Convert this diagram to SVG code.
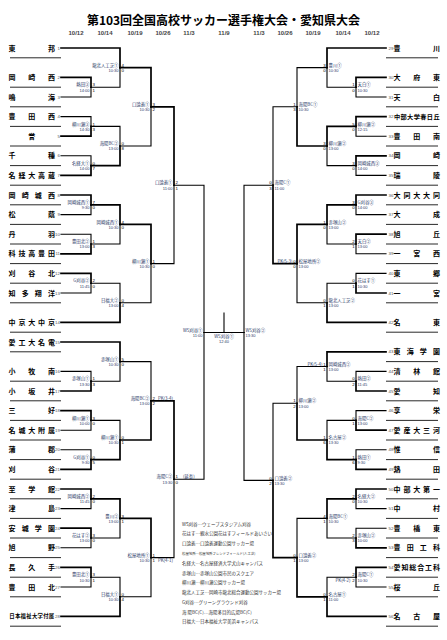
<svg xmlns="http://www.w3.org/2000/svg" width="447" height="640" viewBox="0 0 447 640">
<style>
.w{fill:none;stroke:#000;stroke-width:1.7;stroke-linecap:square}
.l{fill:none;stroke:#000;stroke-width:1.1;stroke-linecap:square}
.u{stroke:#111;stroke-width:0.9}
text{font-family:"Noto Sans CJK JP","Noto Sans",sans-serif}
.nm{font-size:7px;font-weight:bold;text-anchor:middle;fill:#000}
.nl{font-size:4.4px;fill:#555;font-family:"Liberation Sans",sans-serif;text-anchor:end}
.nr{font-size:4.4px;fill:#555;font-family:"Liberation Sans",sans-serif}
.v{font-size:4.4px;fill:#2b3a67}
.t{font-size:4px;fill:#2b3a67;font-family:"Liberation Sans",sans-serif}
.s{font-size:4.4px;fill:#000;font-family:"Liberation Sans",sans-serif}
.e{text-anchor:end}
.dt{font-size:6px;font-weight:bold;fill:#444;text-anchor:middle;font-family:"Liberation Sans",sans-serif}
.ttl{font-size:12px;font-weight:bold;text-anchor:middle;fill:#000}
.lg{font-size:4.5px;fill:#333}
</style>
<rect width="447" height="640" fill="#fff"/>
<g id="title">
<text class="ttl" x="223.5" y="24.5">第103回全国高校サッカー選手権大会・愛知県大会</text>
</g>
<g id="dates">
<text class="dt" x="76" y="35">10/12</text><text class="dt" x="105" y="35">10/14</text><text class="dt" x="135" y="35">10/19</text><text class="dt" x="163" y="35">10/26</text><text class="dt" x="189" y="35">11/3</text><text class="dt" x="224" y="35">11/9</text><text class="dt" x="259" y="35">11/3</text><text class="dt" x="285" y="35">10/26</text><text class="dt" x="313" y="35">10/19</text><text class="dt" x="343" y="35">10/14</text><text class="dt" x="372" y="35">10/12</text>
</g>
<g id="connectors">
<path class="w" d="M61 77.4H91V87.2"/><path class="l" d="M61 97H91V87.2"/>
<path class="l" d="M61 116.6H91V126.4"/><path class="w" d="M61 136.2H91V126.4"/>
<path class="l" d="M61 155.8H91V165.6"/><path class="w" d="M61 175.4H91V165.6"/>
<path class="w" d="M61 195H91V204.8"/><path class="l" d="M61 214.6H91V204.8"/>
<path class="l" d="M61 234.2H91V244"/><path class="w" d="M61 253.8H91V244"/>
<path class="w" d="M61 273.4H91V283.2"/><path class="l" d="M61 293H91V283.2"/>
<path class="l" d="M61 371.4H91V381.2"/><path class="w" d="M61 391H91V381.2"/>
<path class="w" d="M61 410.6H91V420.4"/><path class="l" d="M61 430.2H91V420.4"/>
<path class="l" d="M61 449.8H91V459.6"/><path class="w" d="M61 469.4H91V459.6"/>
<path class="w" d="M61 489H91V498.8"/><path class="l" d="M61 508.6H91V498.8"/>
<path class="w" d="M61 528.2H91V538"/><path class="l" d="M61 547.8H91V538"/>
<path class="w" d="M61 567.4H91V577.2"/><path class="l" d="M61 587H91V577.2"/>
<path class="w" d="M61 48H120V67.6"/><path class="l" d="M91 87.2H120V67.6"/>
<path class="l" d="M91 126.4H120V146"/><path class="w" d="M91 165.6H120V146"/>
<path class="w" d="M91 204.8H120V224.4"/><path class="l" d="M91 244H120V224.4"/>
<path class="l" d="M91 283.2H120V302.8"/><path class="w" d="M61 322.4H120V302.8"/>
<path class="w" d="M61 342H120V361.6"/><path class="l" d="M91 381.2H120V361.6"/>
<path class="l" d="M91 420.4H120V440"/><path class="w" d="M91 459.6H120V440"/>
<path class="w" d="M91 498.8H120V518.4"/><path class="l" d="M91 538H120V518.4"/>
<path class="l" d="M91 577.2H120V596.8"/><path class="w" d="M61 616.4H120V596.8"/>
<path class="w" d="M120 67.6H151V106.8"/><path class="l" d="M120 146H151V106.8"/>
<path class="w" d="M120 224.4H151V263.6"/><path class="l" d="M120 302.8H151V263.6"/>
<path class="l" d="M120 361.6H151V400.8"/><path class="w" d="M120 440H151V400.8"/>
<path class="w" d="M120 518.4H151V557.6"/><path class="l" d="M120 596.8H151V557.6"/>
<path class="w" d="M151 106.8H174V185.2"/><path class="l" d="M151 263.6H174V185.2"/>
<path class="w" d="M151 400.8H174V479.2"/><path class="l" d="M151 557.6H174V479.2"/>
<path class="l" d="M174 185.2H204V332.5"/><path class="l" d="M174 479.2H204V332.5"/>
<path class="l" d="M204 332.5H244"/><path class="l" d="M224 332.5V313"/>
<path class="l" d="M273 185.2H244V332.5"/><path class="l" d="M273 480.4H244V332.5"/>
<path class="w" d="M386 77.4H356V87.2"/><path class="l" d="M386 97H356V87.2"/>
<path class="w" d="M386 116.6H356V126.4"/><path class="l" d="M386 136.2H356V126.4"/>
<path class="w" d="M386 155.8H356V165.6"/><path class="l" d="M386 175.4H356V165.6"/>
<path class="w" d="M386 195H356V204.8"/><path class="l" d="M386 214.6H356V204.8"/>
<path class="w" d="M386 234.2H356V244"/><path class="l" d="M386 253.8H356V244"/>
<path class="l" d="M386 273.4H356V283.2"/><path class="w" d="M386 293H356V283.2"/>
<path class="l" d="M386 371.4H356V381.2"/><path class="w" d="M386 391H356V381.2"/>
<path class="l" d="M386 410.6H356V420.4"/><path class="w" d="M386 430.2H356V420.4"/>
<path class="l" d="M386 449.8H356V459.6"/><path class="w" d="M386 469.4H356V459.6"/>
<path class="w" d="M386 489H356V498.8"/><path class="l" d="M386 508.6H356V498.8"/>
<path class="l" d="M386 528.2H356V538"/><path class="w" d="M386 547.8H356V538"/>
<path class="w" d="M386 567.4H356V577.2"/><path class="l" d="M386 587H356V577.2"/>
<path class="w" d="M386 48H327V67.6"/><path class="l" d="M356 87.2H327V67.6"/>
<path class="w" d="M356 126.4H327V146"/><path class="l" d="M356 165.6H327V146"/>
<path class="w" d="M356 204.8H327V224.4"/><path class="l" d="M356 244H327V224.4"/>
<path class="l" d="M356 283.2H327V302.8"/><path class="w" d="M386 322.4H327V302.8"/>
<path class="w" d="M386 351.8H327V366.5"/><path class="l" d="M356 381.2H327V366.5"/>
<path class="l" d="M356 420.4H327V440"/><path class="w" d="M356 459.6H327V440"/>
<path class="w" d="M356 498.8H327V518.4"/><path class="l" d="M356 538H327V518.4"/>
<path class="l" d="M356 577.2H327V596.8"/><path class="w" d="M386 616.4H327V596.8"/>
<path class="l" d="M327 67.6H297V106.8"/><path class="w" d="M327 146H297V106.8"/>
<path class="w" d="M327 224.4H297V263.6"/><path class="l" d="M327 302.8H297V263.6"/>
<path class="l" d="M327 366.5H297V403.25"/><path class="w" d="M327 440H297V403.25"/>
<path class="l" d="M327 518.4H297V557.6"/><path class="w" d="M327 596.8H297V557.6"/>
<path class="l" d="M297 106.8H273V185.2"/><path class="w" d="M297 263.6H273V185.2"/>
<path class="l" d="M297 403.25H273V480.4"/><path class="w" d="M297 557.6H273V480.4"/>
</g>
<g id="teams-left">
<g id="team-1"><text class="nm" x="12 51.5" y="50.5">東邦</text><text class="nl" x="60" y="49.6">1</text><line class="u" x1="10" y1="57.8" x2="61" y2="57.8"/></g>
<g id="team-2"><text class="nm" x="12 31.75 51.5" y="79.9">岡崎西</text><text class="nl" x="60" y="79">2</text><line class="u" x1="10" y1="87.2" x2="61" y2="87.2"/></g>
<g id="team-3"><text class="nm" x="12 51.5" y="99.5">鳴海</text><text class="nl" x="60" y="98.6">3</text><line class="u" x1="10" y1="106.8" x2="61" y2="106.8"/></g>
<g id="team-4"><text class="nm" x="12 31.75 51.5" y="119.1">豊田西</text><text class="nl" x="60" y="118.2">4</text><line class="u" x1="10" y1="126.4" x2="61" y2="126.4"/></g>
<g id="team-5"><text class="nm" x="31.75" y="138.7">誉</text><text class="nl" x="60" y="137.8">5</text><line class="u" x1="10" y1="146" x2="61" y2="146"/></g>
<g id="team-6"><text class="nm" x="12 51.5" y="158.3">千種</text><text class="nl" x="60" y="157.4">6</text><line class="u" x1="10" y1="165.6" x2="61" y2="165.6"/></g>
<g id="team-7"><text class="nm" x="12 21.9 31.75 41.6 51.5" y="177.9">名経大高蔵</text><text class="nl" x="60" y="177">7</text><line class="u" x1="10" y1="185.2" x2="61" y2="185.2"/></g>
<g id="team-8"><text class="nm" x="12 25.2 38.3 51.5" y="197.5">岡崎城西</text><text class="nl" x="60" y="196.6">8</text><line class="u" x1="10" y1="204.8" x2="61" y2="204.8"/></g>
<g id="team-9"><text class="nm" x="12 51.5" y="217.1">松蔭</text><text class="nl" x="60" y="216.2">9</text><line class="u" x1="10" y1="224.4" x2="61" y2="224.4"/></g>
<g id="team-10"><text class="nm" x="12 51.5" y="236.7">丹羽</text><text class="nl" x="60" y="235.8">10</text><line class="u" x1="10" y1="244" x2="61" y2="244"/></g>
<g id="team-11"><text class="nm" x="12 21.9 31.75 41.6 51.5" y="256.3">科技高豊田</text><text class="nl" x="60" y="255.4">11</text><line class="u" x1="10" y1="263.6" x2="61" y2="263.6"/></g>
<g id="team-12"><text class="nm" x="12 31.75 51.5" y="275.9">刈谷北</text><text class="nl" x="60" y="275">12</text><line class="u" x1="10" y1="283.2" x2="61" y2="283.2"/></g>
<g id="team-13"><text class="nm" x="12 25.2 38.3 51.5" y="295.5">知多翔洋</text><text class="nl" x="60" y="294.6">13</text><line class="u" x1="10" y1="302.8" x2="61" y2="302.8"/></g>
<g id="team-14"><text class="nm" x="12 21.9 31.75 41.6 51.5" y="324.9">中京大中京</text><text class="nl" x="60" y="324">14</text><line class="u" x1="10" y1="332.2" x2="61" y2="332.2"/></g>
<g id="team-15"><text class="nm" x="12 21.9 31.75 41.6 51.5" y="344.5">愛工大名電</text><text class="nl" x="60" y="343.6">15</text><line class="u" x1="10" y1="351.8" x2="61" y2="351.8"/></g>
<g id="team-16"><text class="nm" x="12 31.75 51.5" y="373.9">小牧南</text><text class="nl" x="60" y="373">16</text><line class="u" x1="10" y1="381.2" x2="61" y2="381.2"/></g>
<g id="team-17"><text class="nm" x="12 31.75 51.5" y="393.5">小坂井</text><text class="nl" x="60" y="392.6">17</text><line class="u" x1="10" y1="400.8" x2="61" y2="400.8"/></g>
<g id="team-18"><text class="nm" x="12 51.5" y="413.1">三好</text><text class="nl" x="60" y="412.2">18</text><line class="u" x1="10" y1="420.4" x2="61" y2="420.4"/></g>
<g id="team-19"><text class="nm" x="12 21.9 31.75 41.6 51.5" y="432.7">名城大附属</text><text class="nl" x="60" y="431.8">19</text><line class="u" x1="10" y1="440" x2="61" y2="440"/></g>
<g id="team-20"><text class="nm" x="12 51.5" y="452.3">蒲郡</text><text class="nl" x="60" y="451.4">20</text><line class="u" x1="10" y1="459.6" x2="61" y2="459.6"/></g>
<g id="team-21"><text class="nm" x="12 51.5" y="471.9">刈谷</text><text class="nl" x="60" y="471">21</text><line class="u" x1="10" y1="479.2" x2="61" y2="479.2"/></g>
<g id="team-22"><text class="nm" x="12 31.75 51.5" y="491.5">至学館</text><text class="nl" x="60" y="490.6">22</text><line class="u" x1="10" y1="498.8" x2="61" y2="498.8"/></g>
<g id="team-23"><text class="nm" x="12 51.5" y="511.1">津島</text><text class="nl" x="60" y="510.2">23</text><line class="u" x1="10" y1="518.4" x2="61" y2="518.4"/></g>
<g id="team-24"><text class="nm" x="12 25.2 38.3 51.5" y="530.7">安城学園</text><text class="nl" x="60" y="529.8">24</text><line class="u" x1="10" y1="538" x2="61" y2="538"/></g>
<g id="team-25"><text class="nm" x="12 51.5" y="550.3">旭野</text><text class="nl" x="60" y="549.4">25</text><line class="u" x1="10" y1="557.6" x2="61" y2="557.6"/></g>
<g id="team-26"><text class="nm" x="12 31.75 51.5" y="569.9">長久手</text><text class="nl" x="60" y="569">26</text><line class="u" x1="10" y1="577.2" x2="61" y2="577.2"/></g>
<g id="team-27"><text class="nm" x="12 31.75 51.5" y="589.5">豊田北</text><text class="nl" x="60" y="588.6">27</text><line class="u" x1="10" y1="596.8" x2="61" y2="596.8"/></g>
<g id="team-28"><text class="nm" style="font-size:5.4px" x="12 17.6 23.3 28.9 34.6 40.2 45.9 51.5" y="618.4">日本福祉大学付属</text><text class="nl" x="60" y="618">28</text><line class="u" x1="10" y1="626.2" x2="61" y2="626.2"/></g>
</g>
<g id="teams-right">
<g id="team-29"><text class="nm" x="397 436.5" y="50.5">豊川</text><text class="nr" x="388.5" y="49.6">29</text><line class="u" x1="386" y1="57.8" x2="438" y2="57.8"/></g>
<g id="team-30"><text class="nm" x="397 416.75 436.5" y="79.9">大府東</text><text class="nr" x="388.5" y="79">30</text><line class="u" x1="386" y1="87.2" x2="438" y2="87.2"/></g>
<g id="team-31"><text class="nm" x="397 436.5" y="99.5">天白</text><text class="nr" x="388.5" y="98.6">31</text><line class="u" x1="386" y1="106.8" x2="438" y2="106.8"/></g>
<g id="team-32"><text class="nm" style="font-size:6.2px" x="397 403.6 410.2 416.75 423.3 429.9 436.5" y="118.8">中部大学春日丘</text><text class="nr" x="388.5" y="118.2">32</text><line class="u" x1="386" y1="126.4" x2="438" y2="126.4"/></g>
<g id="team-33"><text class="nm" x="397 416.75 436.5" y="138.7">豊田南</text><text class="nr" x="388.5" y="137.8">33</text><line class="u" x1="386" y1="146" x2="438" y2="146"/></g>
<g id="team-34"><text class="nm" x="397 436.5" y="158.3">岡崎</text><text class="nr" x="388.5" y="157.4">34</text><line class="u" x1="386" y1="165.6" x2="438" y2="165.6"/></g>
<g id="team-35"><text class="nm" x="397 436.5" y="177.9">瑞陵</text><text class="nr" x="388.5" y="177">35</text><line class="u" x1="386" y1="185.2" x2="438" y2="185.2"/></g>
<g id="team-36"><text class="nm" x="397 406.9 416.75 426.6 436.5" y="197.5">大同大大同</text><text class="nr" x="388.5" y="196.6">36</text><line class="u" x1="386" y1="204.8" x2="438" y2="204.8"/></g>
<g id="team-37"><text class="nm" x="397 436.5" y="217.1">大成</text><text class="nr" x="388.5" y="216.2">37</text><line class="u" x1="386" y1="224.4" x2="438" y2="224.4"/></g>
<g id="team-38"><text class="nm" x="397 436.5" y="236.7">旭丘</text><text class="nr" x="388.5" y="235.8">38</text><line class="u" x1="386" y1="244" x2="438" y2="244"/></g>
<g id="team-39"><text class="nm" x="397 416.75 436.5" y="256.3">一宮西</text><text class="nr" x="388.5" y="255.4">39</text><line class="u" x1="386" y1="263.6" x2="438" y2="263.6"/></g>
<g id="team-40"><text class="nm" x="397 436.5" y="275.9">東郷</text><text class="nr" x="388.5" y="275">40</text><line class="u" x1="386" y1="283.2" x2="438" y2="283.2"/></g>
<g id="team-41"><text class="nm" x="397 436.5" y="295.5">一宮</text><text class="nr" x="388.5" y="294.6">41</text><line class="u" x1="386" y1="302.8" x2="438" y2="302.8"/></g>
<g id="team-42"><text class="nm" x="397 436.5" y="324.9">名東</text><text class="nr" x="388.5" y="324">42</text><line class="u" x1="386" y1="332.2" x2="438" y2="332.2"/></g>
<g id="team-43"><text class="nm" x="397 410.2 423.3 436.5" y="354.3">東海学園</text><text class="nr" x="388.5" y="353.4">43</text><line class="u" x1="386" y1="361.6" x2="438" y2="361.6"/></g>
<g id="team-44"><text class="nm" x="397 416.75 436.5" y="373.9">清林館</text><text class="nr" x="388.5" y="373">44</text><line class="u" x1="386" y1="381.2" x2="438" y2="381.2"/></g>
<g id="team-45"><text class="nm" x="397 436.5" y="393.5">愛知</text><text class="nr" x="388.5" y="392.6">45</text><line class="u" x1="386" y1="400.8" x2="438" y2="400.8"/></g>
<g id="team-46"><text class="nm" x="397 436.5" y="413.1">享栄</text><text class="nr" x="388.5" y="412.2">46</text><line class="u" x1="386" y1="420.4" x2="438" y2="420.4"/></g>
<g id="team-47"><text class="nm" x="397 406.9 416.75 426.6 436.5" y="432.7">愛産大三河</text><text class="nr" x="388.5" y="431.8">47</text><line class="u" x1="386" y1="440" x2="438" y2="440"/></g>
<g id="team-48"><text class="nm" x="397 436.5" y="452.3">惟信</text><text class="nr" x="388.5" y="451.4">48</text><line class="u" x1="386" y1="459.6" x2="438" y2="459.6"/></g>
<g id="team-49"><text class="nm" x="397 436.5" y="471.9">熱田</text><text class="nr" x="388.5" y="471">49</text><line class="u" x1="386" y1="479.2" x2="438" y2="479.2"/></g>
<g id="team-50"><text class="nm" x="397 406.9 416.75 426.6 436.5" y="491.5">中部大第一</text><text class="nr" x="388.5" y="490.6">50</text><line class="u" x1="386" y1="498.8" x2="438" y2="498.8"/></g>
<g id="team-51"><text class="nm" x="397 436.5" y="511.1">中村</text><text class="nr" x="388.5" y="510.2">51</text><line class="u" x1="386" y1="518.4" x2="438" y2="518.4"/></g>
<g id="team-52"><text class="nm" x="397 416.75 436.5" y="530.7">豊橋東</text><text class="nr" x="388.5" y="529.8">52</text><line class="u" x1="386" y1="538" x2="438" y2="538"/></g>
<g id="team-53"><text class="nm" x="397 410.2 423.3 436.5" y="550.3">豊田工科</text><text class="nr" x="388.5" y="549.4">53</text><line class="u" x1="386" y1="557.6" x2="438" y2="557.6"/></g>
<g id="team-54"><text class="nm" x="397 404.9 412.8 420.7 428.6 436.5" y="569.9">愛知総合工科</text><text class="nr" x="388.5" y="569">54</text><line class="u" x1="386" y1="577.2" x2="438" y2="577.2"/></g>
<g id="team-55"><text class="nm" x="397 436.5" y="589.5">桜丘</text><text class="nr" x="388.5" y="588.6">55</text><line class="u" x1="386" y1="596.8" x2="438" y2="596.8"/></g>
<g id="team-56"><text class="nm" x="397 416.75 436.5" y="618.9">名古屋</text><text class="nr" x="388.5" y="618">56</text><line class="u" x1="386" y1="626.2" x2="438" y2="626.2"/></g>
</g>
<g id="matches-left">
<g id="ml-1"><text class="v e" x="89.5" y="86.4">熱田③</text><text class="t e" x="89.5" y="91.5">14:00</text><text class="s" x="92.5" y="86.4">3</text><text class="s" x="92.5" y="91.5">1</text></g>
<g id="ml-2"><text class="v e" x="89.5" y="125.6">柳川瀬③</text><text class="t e" x="89.5" y="130.7">14:30</text><text class="s" x="92.5" y="125.6">1</text><text class="s" x="92.5" y="130.7">3</text></g>
<g id="ml-3"><text class="v e" x="89.5" y="164.8">名経大①</text><text class="t e" x="89.5" y="169.9">14:00</text><text class="s" x="92.5" y="164.8">0</text><text class="s" x="92.5" y="169.9">7</text></g>
<g id="ml-4"><text class="v e" x="89.5" y="204">岡崎城西①</text><text class="t e" x="89.5" y="209.1">9:30</text><text class="s" x="92.5" y="204">7</text><text class="s" x="92.5" y="209.1">0</text></g>
<g id="ml-5"><text class="v e" x="89.5" y="243.2">豊田北②</text><text class="t e" x="89.5" y="248.3">13:00</text><text class="s" x="92.5" y="243.2">1</text><text class="s" x="92.5" y="248.3">3</text></g>
<g id="ml-6"><text class="v e" x="89.5" y="282.4">G刈谷②</text><text class="t e" x="89.5" y="287.5">11:45</text><text class="s" x="92.5" y="282.4">2</text><text class="s" x="92.5" y="287.5">0</text></g>
<g id="ml-7"><text class="v e" x="89.5" y="380.4">赤塚山①</text><text class="t e" x="89.5" y="385.5">13:30</text><text class="s" x="92.5" y="380.4">1</text><text class="s" x="92.5" y="385.5">3</text></g>
<g id="ml-8"><text class="v e" x="89.5" y="419.6">柳川瀬①</text><text class="t e" x="89.5" y="424.7">10:00</text><text class="s" x="92.5" y="419.6">3</text><text class="s" x="92.5" y="424.7">0</text></g>
<g id="ml-9"><text class="v e" x="89.5" y="458.8">G刈谷①</text><text class="t e" x="89.5" y="463.9">9:30</text><text class="s" x="92.5" y="458.8">0</text><text class="s" x="92.5" y="463.9">5</text></g>
<g id="ml-10"><text class="v e" x="89.5" y="498">岡崎城西②</text><text class="t e" x="89.5" y="503.1">11:45</text><text class="s" x="92.5" y="498">2</text><text class="s" x="92.5" y="503.1">0</text></g>
<g id="ml-11"><text class="v e" x="89.5" y="537.2">花はす②</text><text class="t e" x="89.5" y="542.3">13:00</text><text class="s" x="92.5" y="537.2">3</text><text class="s" x="92.5" y="542.3">0</text></g>
<g id="ml-12"><text class="v e" x="89.5" y="576.4">豊田北①</text><text class="t e" x="89.5" y="581.5">10:30</text><text class="s" x="92.5" y="576.4">3</text><text class="s" x="92.5" y="581.5">1</text></g>
<g id="ml-13"><text class="v e" x="118.5" y="66.8">龍北人工芝①</text><text class="t e" x="118.5" y="71.9">10:30</text><text class="s" x="121.5" y="66.8">4</text><text class="s" x="121.5" y="71.9">0</text></g>
<g id="ml-14"><text class="v e" x="118.5" y="145.2">海陽BC②</text><text class="t e" x="118.5" y="150.3">13:00</text><text class="s" x="121.5" y="145.2">0</text><text class="s" x="121.5" y="150.3">8</text></g>
<g id="ml-15"><text class="v e" x="118.5" y="223.6">岡崎城西①</text><text class="t e" x="118.5" y="228.7">10:30</text><text class="s" x="121.5" y="223.6">4</text><text class="s" x="121.5" y="228.7">0</text></g>
<g id="ml-16"><text class="v e" x="118.5" y="302">日福大②</text><text class="t e" x="118.5" y="307.1">13:00</text><text class="s" x="121.5" y="302">0</text><text class="s" x="121.5" y="307.1">4</text></g>
<g id="ml-17"><text class="v e" x="118.5" y="360.8">赤塚山①</text><text class="t e" x="118.5" y="365.9">10:30</text><text class="s" x="121.5" y="360.8">5</text><text class="s" x="121.5" y="365.9">0</text></g>
<g id="ml-18"><text class="v e" x="118.5" y="439.2">柳川瀬①</text><text class="t e" x="118.5" y="444.3">10:30</text><text class="s" x="121.5" y="439.2">0</text><text class="s" x="121.5" y="444.3">1</text></g>
<g id="ml-19"><text class="v e" x="118.5" y="517.6">豊川②</text><text class="t e" x="118.5" y="522.7">13:00</text><text class="s" x="121.5" y="517.6">3</text><text class="s" x="121.5" y="522.7">1</text></g>
<g id="ml-20"><text class="v e" x="118.5" y="596">日福大①</text><text class="t e" x="118.5" y="601.1">10:30</text><text class="s" x="121.5" y="596">0</text><text class="s" x="121.5" y="601.1">4</text></g>
<g id="ml-21"><text class="v e" x="149.5" y="106">口論義①</text><text class="t e" x="149.5" y="111.1">10:30</text><text class="s" x="152.5" y="106">3</text><text class="s" x="152.5" y="111.1">2</text></g>
<g id="ml-22"><text class="v e" x="149.5" y="262.8">柳川瀬①</text><text class="t e" x="149.5" y="267.9">10:30</text><text class="s" x="152.5" y="262.8">1</text><text class="s" x="152.5" y="267.9">0</text></g>
<g id="ml-23"><text class="v e" x="149.5" y="400">海陽BC②</text><text class="t e" x="149.5" y="405.1">13:00</text><text class="s" x="152.5" y="400">2</text><text class="s" x="152.5" y="405.1">2</text><text class="v" x="158" y="400">PK(3-4)</text></g>
<g id="ml-24"><text class="v e" x="149.5" y="556.8">松屋地所①</text><text class="t e" x="149.5" y="561.9">10:30</text><text class="s" x="152.5" y="556.8">1</text><text class="s" x="152.5" y="561.9">1</text><text class="v" x="158" y="561.9">PK(4-1)</text></g>
<g id="ml-25"><text class="v e" x="172.5" y="184.4">口論義①</text><text class="t e" x="172.5" y="189.5">11:00</text><text class="s" x="175.5" y="184.4">2</text><text class="s" x="175.5" y="189.5">1</text></g>
<g id="ml-26"><text class="v e" x="172.5" y="478.4">海陽C②</text><text class="t e" x="172.5" y="483.5">13:30</text><text class="s" x="175.5" y="478.4">1</text><text class="s" x="175.5" y="483.5">0</text><text class="v" x="183" y="478.4">(延長)</text></g>
<g id="ml-27"><text class="v e" x="202.5" y="331.7">WS刈谷①</text><text class="t e" x="202.5" y="336.8">11:00</text></g>
</g>
<g id="final"><text class="v" style="text-anchor:middle" x="224" y="337.6">WS刈谷①</text><text class="t" style="text-anchor:middle" x="224" y="343.4">12:40</text></g>
<g id="matches-right">
<g id="mr-1"><text class="v" x="357.5" y="86.4">天白①</text><text class="t" x="357.5" y="91.5">10:30</text><text class="s e" x="354.8" y="86.4">1</text><text class="s e" x="354.8" y="91.5">0</text></g>
<g id="mr-2"><text class="v" x="357.5" y="125.6">柳川瀬②</text><text class="t" x="357.5" y="130.7">12:15</text><text class="s e" x="354.8" y="125.6">5</text><text class="s e" x="354.8" y="130.7">0</text></g>
<g id="mr-3"><text class="v" x="357.5" y="164.8">岡崎城西③</text><text class="t" x="357.5" y="169.9">14:00</text><text class="s e" x="354.8" y="164.8">3</text><text class="s e" x="354.8" y="169.9">0</text></g>
<g id="mr-4"><text class="v" x="357.5" y="204">G刈谷③</text><text class="t" x="357.5" y="209.1">14:00</text><text class="s e" x="354.8" y="204">3</text><text class="s e" x="354.8" y="209.1">0</text></g>
<g id="mr-5"><text class="v" x="357.5" y="243.2">天白②</text><text class="t" x="357.5" y="248.3">13:00</text><text class="s e" x="354.8" y="243.2">2</text><text class="s e" x="354.8" y="248.3">1</text></g>
<g id="mr-6"><text class="v" x="357.5" y="282.4">花はす①</text><text class="t" x="357.5" y="287.5">10:30</text><text class="s e" x="354.8" y="282.4">0</text><text class="s e" x="354.8" y="287.5">1</text></g>
<g id="mr-7"><text class="v" x="357.5" y="380.4">熱田②</text><text class="t" x="357.5" y="385.5">11:45</text><text class="s e" x="354.8" y="380.4">0</text><text class="s e" x="354.8" y="385.5">2</text></g>
<g id="mr-8"><text class="v" x="357.5" y="419.6">海陽C②</text><text class="t" x="357.5" y="424.7">13:00</text><text class="s e" x="354.8" y="419.6">0</text><text class="s e" x="354.8" y="424.7">1</text></g>
<g id="mr-9"><text class="v" x="357.5" y="458.8">熱田①</text><text class="t" x="357.5" y="463.9">9:30</text><text class="s e" x="354.8" y="458.8">1</text><text class="s e" x="354.8" y="463.9">6</text></g>
<g id="mr-10"><text class="v" x="357.5" y="498">名経大②</text><text class="t" x="357.5" y="503.1">10:30</text><text class="s e" x="354.8" y="498">2</text><text class="s e" x="354.8" y="503.1">0</text></g>
<g id="mr-11"><text class="v" x="357.5" y="537.2">赤塚山②</text><text class="t" x="357.5" y="542.3">10:00</text><text class="s e" x="354.8" y="537.2">2</text><text class="s e" x="354.8" y="542.3">3</text></g>
<g id="mr-12"><text class="v" x="357.5" y="576.4">海陽C①</text><text class="t" x="357.5" y="581.5">10:30</text><text class="s e" x="354.8" y="576.4">2</text><text class="s e" x="354.8" y="581.5">2</text><text class="v e" x="350.5" y="581.5">PK(4-2)</text></g>
<g id="mr-13"><text class="v" x="328.5" y="66.8">豊川①</text><text class="t" x="328.5" y="71.9">10:30</text><text class="s e" x="325.8" y="66.8">3</text><text class="s e" x="325.8" y="71.9">0</text></g>
<g id="mr-14"><text class="v" x="328.5" y="145.2">柳川瀬②</text><text class="t" x="328.5" y="150.3">13:00</text><text class="s e" x="325.8" y="145.2">3</text><text class="s e" x="325.8" y="150.3">0</text></g>
<g id="mr-15"><text class="v" x="328.5" y="223.6">赤塚山②</text><text class="t" x="328.5" y="228.7">13:00</text><text class="s e" x="325.8" y="223.6">1</text><text class="s e" x="325.8" y="228.7">0</text></g>
<g id="mr-16"><text class="v" x="328.5" y="302">龍北人工芝②</text><text class="t" x="328.5" y="307.1">13:00</text><text class="s e" x="325.8" y="302">0</text><text class="s e" x="325.8" y="307.1">1</text></g>
<g id="mr-17"><text class="v" x="328.5" y="365.7">岡崎城西②</text><text class="t" x="328.5" y="370.8">13:00</text><text class="s e" x="325.8" y="365.7">1</text><text class="s e" x="325.8" y="370.8">1</text><text class="v e" x="322.5" y="365.7">PK(5-4)</text></g>
<g id="mr-18"><text class="v" x="328.5" y="439.2">名古屋②</text><text class="t" x="328.5" y="444.3">13:30</text><text class="s e" x="325.8" y="439.2">1</text><text class="s e" x="325.8" y="444.3">6</text></g>
<g id="mr-19"><text class="v" x="328.5" y="517.6">海陽BC①</text><text class="t" x="328.5" y="522.7">10:30</text><text class="s e" x="325.8" y="517.6">4</text><text class="s e" x="325.8" y="522.7">1</text></g>
<g id="mr-20"><text class="v" x="328.5" y="596">名古屋①</text><text class="t" x="328.5" y="601.1">11:00</text><text class="s e" x="325.8" y="596">0</text><text class="s e" x="325.8" y="601.1">1</text></g>
<g id="mr-21"><text class="v" x="298.5" y="106">海陽BC①</text><text class="t" x="298.5" y="111.1">10:30</text><text class="s e" x="295.8" y="106">1</text><text class="s e" x="295.8" y="111.1">3</text></g>
<g id="mr-22"><text class="v" x="298.5" y="262.8">松屋地所②</text><text class="t" x="298.5" y="267.9">13:00</text><text class="s e" x="295.8" y="262.8">0</text><text class="s e" x="295.8" y="267.9">0</text><text class="v e" x="292.5" y="262.8">PK(5-3)</text></g>
<g id="mr-23"><text class="v" x="298.5" y="402.45">柳川瀬②</text><text class="t" x="298.5" y="407.55">13:00</text><text class="s e" x="295.8" y="402.45">1</text><text class="s e" x="295.8" y="407.55">2</text></g>
<g id="mr-24"><text class="v" x="298.5" y="556.8">口論義②</text><text class="t" x="298.5" y="561.9">13:00</text><text class="s e" x="295.8" y="556.8">0</text><text class="s e" x="295.8" y="561.9">1</text></g>
<g id="mr-25"><text class="v" x="274.5" y="184.4">海陽C①</text><text class="t" x="274.5" y="189.5">11:00</text><text class="s e" x="271.8" y="184.4">0</text><text class="s e" x="271.8" y="189.5">3</text></g>
<g id="mr-26"><text class="v" x="274.5" y="479.6">口論義②</text><text class="t" x="274.5" y="484.7">13:30</text><text class="s e" x="271.8" y="479.6">0</text><text class="s e" x="271.8" y="484.7">2</text></g>
<g id="mr-27"><text class="v" x="245.5" y="331.7">WS刈谷②</text><text class="t" x="245.5" y="336.8">13:30</text></g>
</g>
<g id="legend">
<text class="lg" x="182" y="525.6">WS刈谷…ウェーブスタジアム刈谷</text>
<text class="lg" x="182" y="535.4">花はす…親水公園花はすフィールドあいさい</text>
<text class="lg" x="182" y="545.1">口論義…口論義運動公園サッカー場</text>
<text class="lg" style="font-size:3.4px" x="182" y="554.6">松屋地所…松屋地所フレンドフィールド(人工芝)</text>
<text class="lg" x="182" y="564.7">名経大…名古屋経済大学犬山キャンパス</text>
<text class="lg" x="182" y="574.5">赤塚山…赤塚山公園市民のスクエア</text>
<text class="lg" x="182" y="584.2">柳川瀬…柳川瀬公園サッカー場</text>
<text class="lg" x="182" y="594">龍北人工芝…岡崎市龍北総合運動公園サッカー場</text>
<text class="lg" x="182" y="603.8">G刈谷…グリーングラウンド刈谷</text>
<text class="lg" x="182" y="613.5">海 陽BC(C)…海陽多目的広場BC(C)</text>
<text class="lg" x="182" y="623.3">日福大…日本福祉大学美浜キャンパス</text>
</g>
</svg>
